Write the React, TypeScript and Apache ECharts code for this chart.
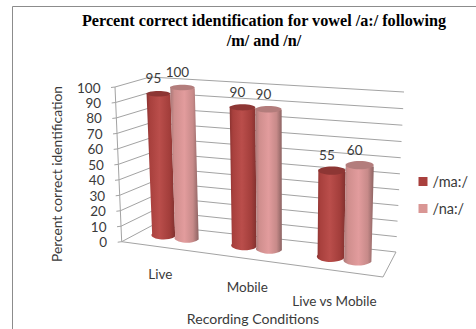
import React, { useEffect, useRef } from "react";
import * as echarts from "echarts";

const categories = ["Live", "Mobile", "Live vs Mobile"];
const maValues = [95, 90, 55];
const naValues = [100, 90, 60];
const yTicks = [0, 10, 20, 30, 40, 50, 60, 70, 80, 90, 100];

const titleLines = "Percent correct identification for vowel /a:/ following\n/m/ and /n/";
const yAxisTitle = "Percent correct identification";
const xAxisTitle = "Recording Conditions";

type Pt = [number, number];

const AXIS_FONT = "Lato, sans-serif";
const TEXT_COLOR = "#3a3a3a";
const LINE_COLOR = "#a3a3a3";

// Projects the unit square onto a quadrilateral given as BL, BR, TR, TL.
function quadProjection(p0: Pt, p1: Pt, p2: Pt, p3: Pt) {
  const dx1 = p1[0] - p2[0], dx2 = p3[0] - p2[0], sx = p0[0] - p1[0] + p2[0] - p3[0];
  const dy1 = p1[1] - p2[1], dy2 = p3[1] - p2[1], sy = p0[1] - p1[1] + p2[1] - p3[1];
  const den = dx1 * dy2 - dx2 * dy1;
  const g = (sx * dy2 - dx2 * sy) / den;
  const h = (dx1 * sy - sx * dy1) / den;
  const a = p1[0] - p0[0] + g * p1[0], b = p3[0] - p0[0] + h * p3[0];
  const d = p1[1] - p0[1] + g * p1[1], e = p3[1] - p0[1] + h * p3[1];
  return (u: number, v: number): Pt => {
    const w = g * u + h * v + 1;
    return [(a * u + b * v + p0[0]) / w, (d * u + e * v + p0[1]) / w];
  };
}

const lerp = (a: Pt, b: Pt, t: number): Pt => [a[0] + (b[0] - a[0]) * t, a[1] + (b[1] - a[1]) * t];

// The 3D box: back wall, left edge of the side wall, front edge of the floor.
const wall = quadProjection([153, 225], [396, 252], [404, 92], [150, 77]);
const frontBottomLeft: Pt = [121.7, 241.7];
const frontTopLeft: Pt = [115, 87];
const floorFrontRight: Pt = [383, 277];
// The vertical plane through the cylinder axes.
const columnPlane = quadProjection([136.5, 231.4], [390.5, 264.3], [395.5, 101], [130, 84.2]);

const BAND_SHARE = 0.148;

const ramp = (stops: [number, string][]) =>
  new echarts.graphic.LinearGradient(0, 0, 1, 0, stops.map(([offset, color]) => ({ offset, color })));

const maBody = () => ramp([[0, "#8a3331"], [0.12, "#a8403d"], [0.45, "#ba4e4b"], [0.8, "#a33e3b"], [1, "#80302e"]]);
const naBody = () => ramp([[0, "#a97877"], [0.15, "#cf8e8d"], [0.5, "#e29c9d"], [0.8, "#c78a89"], [1, "#8c6362"]]);

function columnRenderer(side: number, body: () => any, topColor: string) {
  return (params: any, api: any) => {
    const cs = params.coordSys;
    const [cx, py] = api.coord([api.value(0), api.value(1)]);
    const bandWidth = api.size([1, 0])[0] / cs.width;
    const hw = bandWidth * BAND_SHARE;
    const u = (cx - cs.x) / cs.width + side * hw;
    const v = (cs.y + cs.height - py) / cs.height;

    const tl = columnPlane(u - hw, v), tr = columnPlane(u + hw, v);
    const bl = columnPlane(u - hw, 0), br = columnPlane(u + hw, 0);
    const rxTop = (tr[0] - tl[0]) / 2, rxBase = (br[0] - bl[0]) / 2;
    const ryTop = rxTop * (0.38 - 0.15 * v), ryBase = rxBase * 0.38;

    const bodyPath =
      `M${tl[0]} ${tl[1]}L${bl[0]} ${bl[1]}` +
      `A${rxBase} ${ryBase} 0 0 0 ${br[0]} ${br[1]}` +
      `L${tr[0]} ${tr[1]}Z`;
    const top = columnPlane(u, v);

    return {
      type: "group",
      children: [
        { type: "path", shape: { pathData: bodyPath, layout: "none" } as any, style: { fill: body() } },
        {
          type: "ellipse",
          shape: { cx: top[0], cy: top[1], rx: rxTop, ry: ryTop },
          style: { fill: topColor },
        },
        {
          type: "text",
          style: {
            x: top[0] - 5,
            y: top[1] - 15.5,
            text: String(api.value(1)),
            font: `13.5px ${AXIS_FONT}`,
            fill: TEXT_COLOR,
            align: "center",
            verticalAlign: "middle",
          },
        },
      ],
    };
  };
}

// One gridline per tick: side wall, back wall, tick mark and tick label.
function frameRenderer(params: any, api: any) {
  const cs = params.coordSys;
  const tick = api.value(1);
  const v = (cs.y + cs.height - api.coord([0, tick])[1]) / cs.height;
  const front = lerp(frontBottomLeft, frontTopLeft, v);
  const line = { stroke: LINE_COLOR, lineWidth: 1, fill: "none" };
  const children: any[] = [
    {
      type: "polyline",
      shape: { points: [[front[0] - 4, front[1] + 0.5], front, wall(0, v), wall(1, v)] },
      style: line,
    },
    {
      type: "text",
      style: {
        x: front[0] - 14.5,
        y: front[1] + 0.5,
        text: String(tick),
        font: `13.5px ${AXIS_FONT}`,
        fill: TEXT_COLOR,
        align: "right",
        verticalAlign: "middle",
      },
    },
  ];
  if (tick === 0) {
    children.push({
      type: "polyline",
      shape: { points: [frontBottomLeft, floorFrontRight, wall(1, 0)] },
      style: line,
    });
    children.push({
      type: "line",
      shape: { x1: frontBottomLeft[0], y1: frontBottomLeft[1], x2: frontTopLeft[0], y2: frontTopLeft[1] },
      style: line,
    });
  }
  return { type: "group", children };
}

// Category names are staggered along the front edge of the floor.
function categoryRenderer(params: any, api: any) {
  const cs = params.coordSys;
  const cx = api.coord([api.value(0), 0])[0];
  const u = (cx - cs.x) / cs.width;
  const edge = lerp(frontBottomLeft, floorFrontRight, u);
  return {
    type: "text",
    style: {
      x: edge[0] - 5,
      y: edge[1] + 25.5 + 5 * u,
      text: categories[api.value(0)],
      font: `13.5px ${AXIS_FONT}`,
      fill: TEXT_COLOR,
      align: "center",
      verticalAlign: "middle",
    },
  };
}

export default function App() {
  const ref = useRef<HTMLDivElement>(null);

  useEffect(() => {
    const chart = echarts.init(ref.current!, null, { renderer: "svg" });
    chart.setOption({
      animation: false,
      backgroundColor: "#ffffff",
      grid: { left: 136, top: 85, width: 254, height: 147 },
      xAxis: { type: "category", data: categories, show: false },
      yAxis: { type: "value", min: 0, max: 100, interval: 10, show: false },
      legend: {
        data: ["/ma:/", "/na:/"],
        orient: "vertical",
        left: 418.5,
        top: 174,
        padding: 0,
        itemWidth: 9,
        itemHeight: 9,
        itemGap: 12,
        icon: "rect",
        selectedMode: false,
        textStyle: { fontFamily: AXIS_FONT, fontSize: 14.5, color: TEXT_COLOR },
      },
      graphic: [
        {
          type: "polyline",
          silent: true,
          shape: { points: [[12.5, 329], [12.5, 6.5], [476, 6.5]] },
          style: { stroke: "#8c8c8c", lineWidth: 1, fill: "none" },
        },
        {
          type: "text",
          x: 264,
          y: 31,
          style: {
            text: titleLines,
            font: 'bold 16.2px "Liberation Serif", serif',
            fill: "#000000",
            align: "center",
            verticalAlign: "middle",
            lineHeight: 20,
          },
        },
        {
          type: "text",
          x: 56,
          y: 174,
          rotation: Math.PI / 2,
          style: {
            text: yAxisTitle,
            font: `13.8px ${AXIS_FONT}`,
            fill: TEXT_COLOR,
            align: "center",
            verticalAlign: "middle",
          },
        },
        {
          type: "text",
          x: 253,
          y: 318,
          style: {
            text: xAxisTitle,
            font: `14.1px ${AXIS_FONT}`,
            fill: TEXT_COLOR,
            align: "center",
            verticalAlign: "middle",
          },
        },
      ],
      series: [
        {
          type: "custom",
          name: "frame",
          renderItem: frameRenderer,
          data: yTicks.map((t) => [0, t]),
          encode: { x: 0, y: 1 },
          silent: true,
          z: 1,
        },
        {
          type: "custom",
          name: "categories",
          renderItem: categoryRenderer,
          data: categories.map((_, i) => [i, 0]),
          encode: { x: 0, y: 1 },
          silent: true,
          z: 1,
        },
        {
          type: "custom",
          name: "/ma:/",
          renderItem: columnRenderer(-1, maBody, "#8d3634"),
          data: maValues.map((value, i) => [i, value]),
          encode: { x: 0, y: 1 },
          itemStyle: { color: "#a9403d" },
          z: 2,
        },
        {
          type: "custom",
          name: "/na:/",
          renderItem: columnRenderer(1, naBody, "#b37d7c"),
          data: naValues.map((value, i) => [i, value]),
          encode: { x: 0, y: 1 },
          itemStyle: { color: "#d99694" },
          z: 3,
        },
      ],
    });
    return () => chart.dispose();
  }, []);

  return <div ref={ref} style={{ position: "fixed", left: 0, top: 0, width: 476, height: 329 }} />;
}
